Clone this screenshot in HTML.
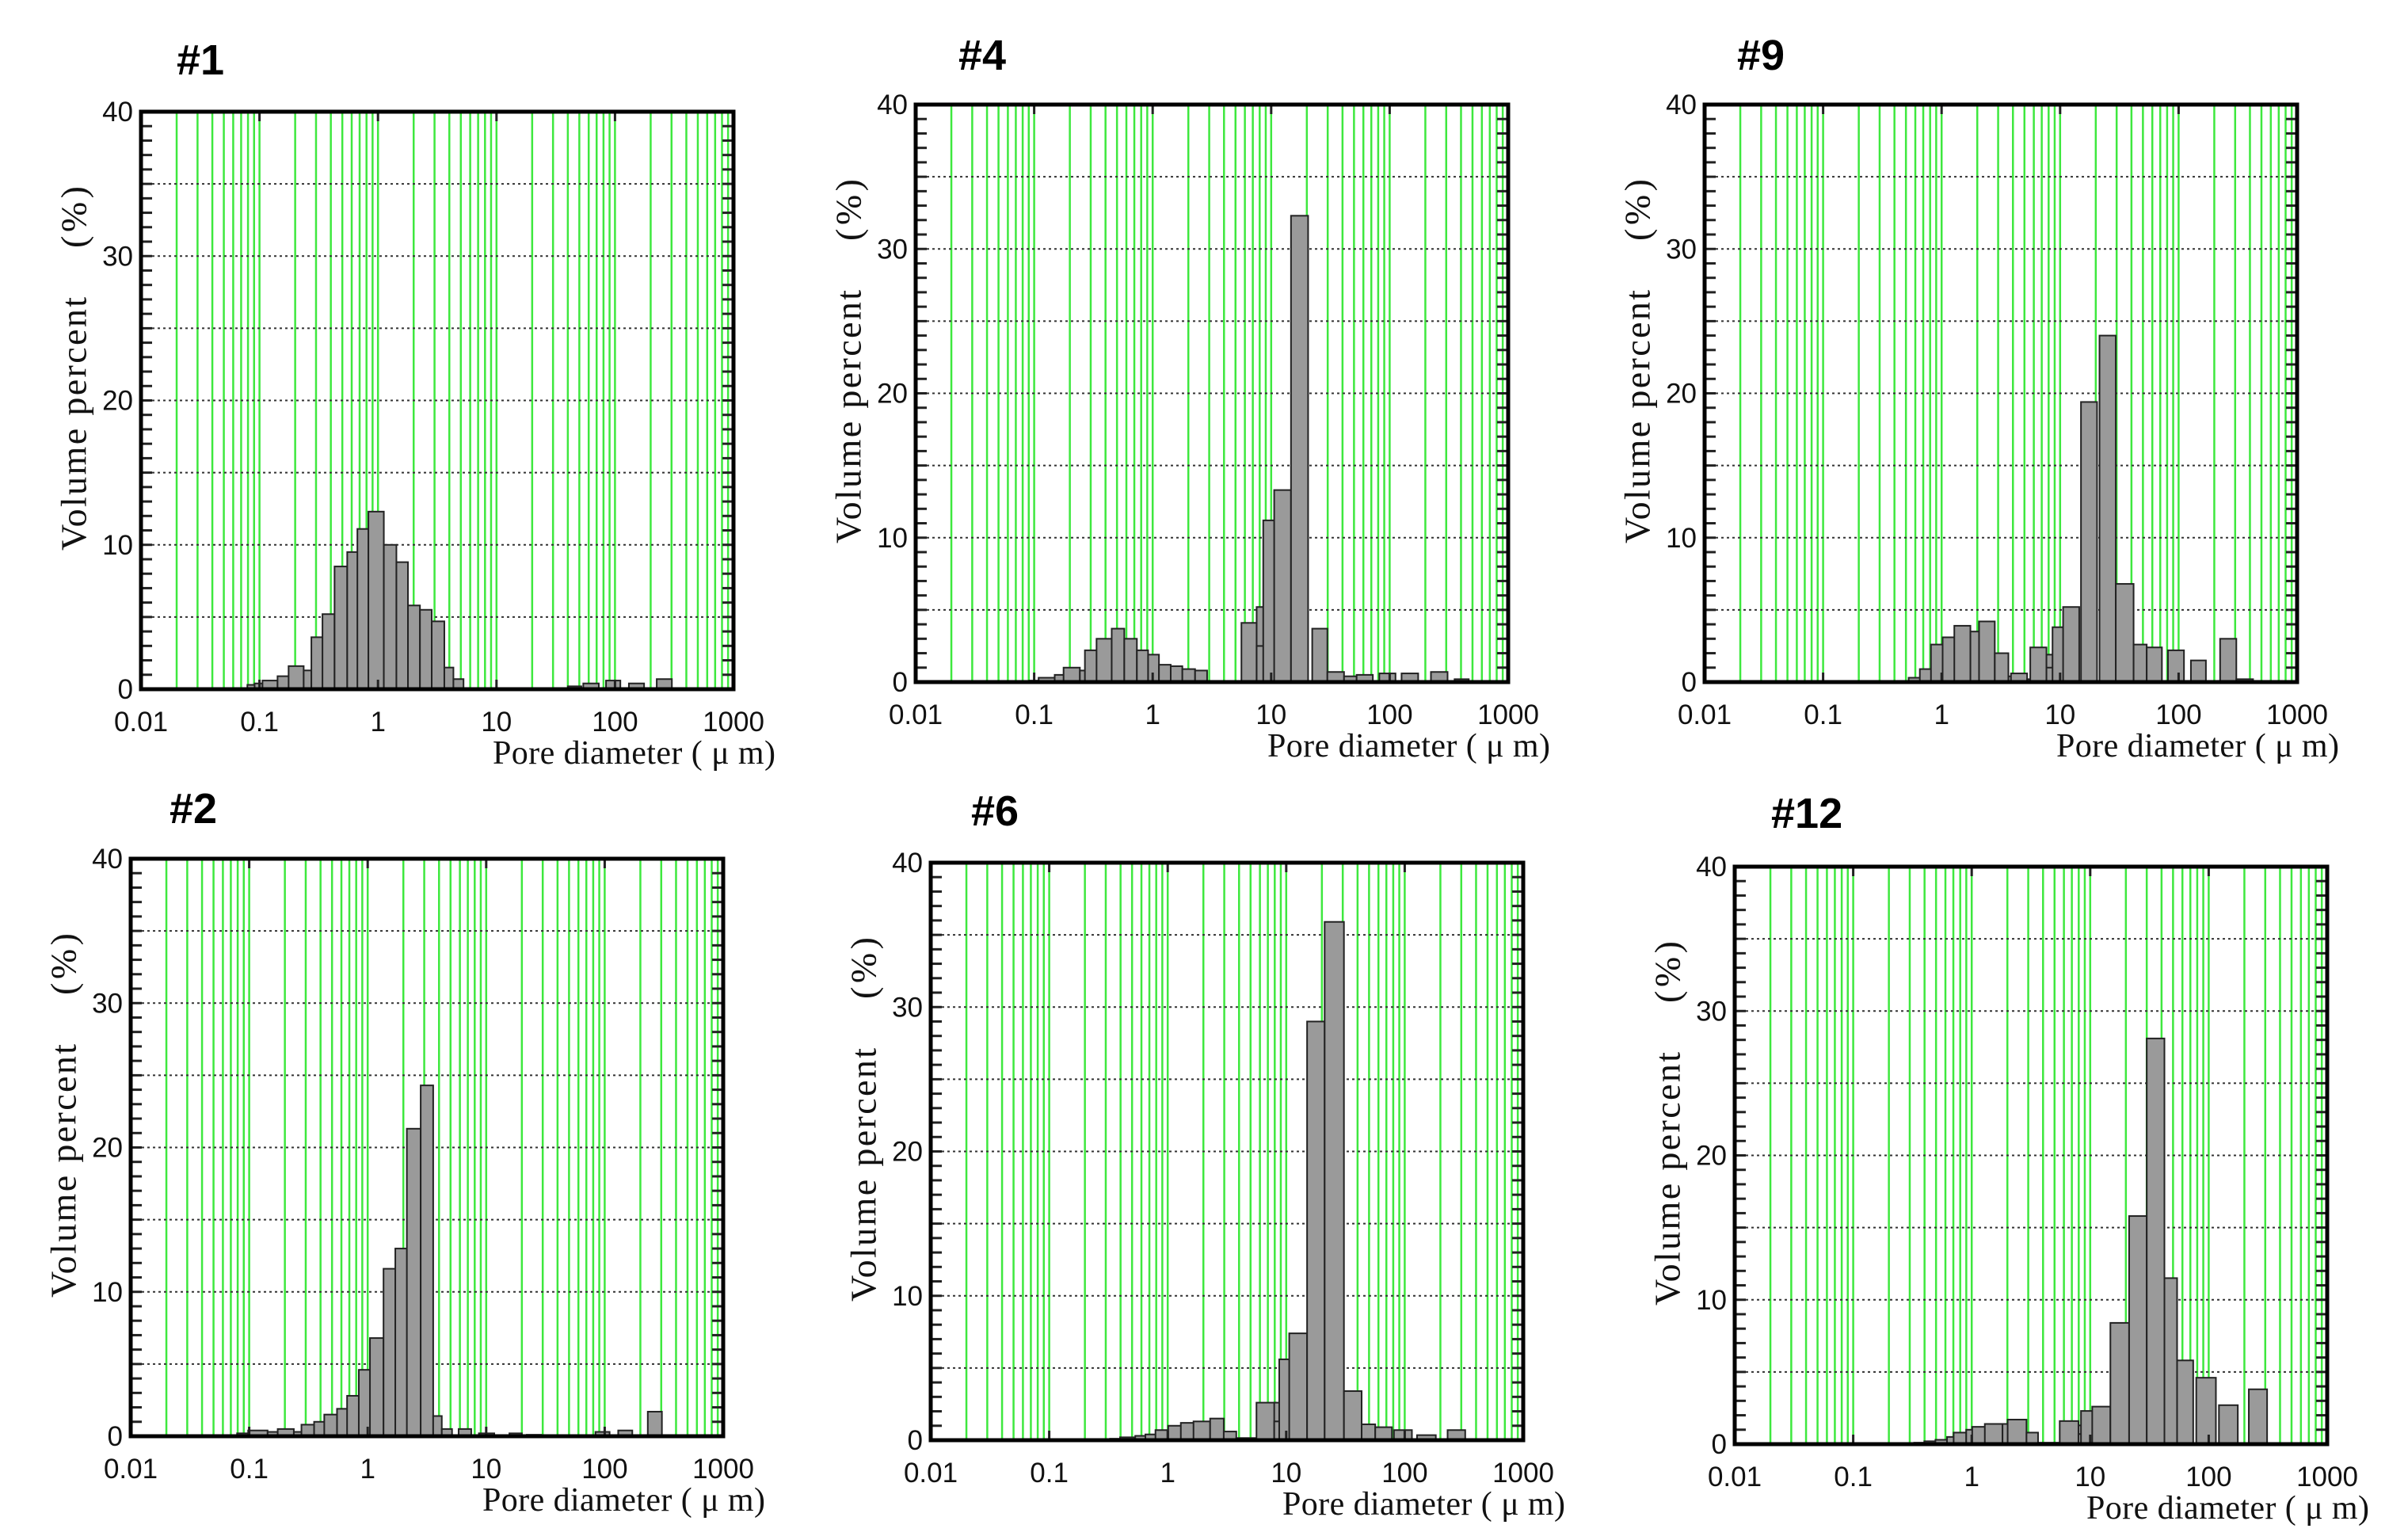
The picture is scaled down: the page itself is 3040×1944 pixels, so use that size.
<!DOCTYPE html>
<html><head><meta charset="utf-8"><title>Pore size distributions</title>
<style>html,body{margin:0;padding:0;background:#fff}svg{display:block}</style></head>
<body>
<svg id="fig" xmlns="http://www.w3.org/2000/svg" width="3040" height="1944" viewBox="0 0 3040 1944"></svg>
<script>
// ---- data: [lower diameter (um), upper diameter (um)], volume percent ----
const s1Lo = [0.079,0.091,0.106,0.142,0.176,0.236,0.274,0.34,0.43,0.55,0.67,0.83,1.12,1.43,1.79,2.26,2.84,3.63,4.33,40,54,84,131,225];
const s1Hi = [0.091,0.106,0.142,0.194,0.236,0.274,0.36,0.43,0.55,0.70,0.83,1.12,1.43,1.79,2.26,2.84,3.63,4.33,5.27,52,73,111,176,302];
const s1Val = [0.3,0.4,0.6,0.9,1.6,1.3,3.6,5.2,8.5,9.5,11.1,12.3,10.0,8.8,5.8,5.5,4.7,1.5,0.7,0.2,0.4,0.6,0.4,0.7];

const s4Lo = [0.091,0.109,0.149,0.177,0.243,0.268,0.336,0.451,0.576,0.736,0.915,1.13,1.42,1.78,2.28,5.61,7.54,7.54,8.57,10.6,14.7,22.2,29.8,41.2,52.6,81.8,126,223,353];
const s4Hi = [0.109,0.149,0.196,0.243,0.281,0.36,0.451,0.576,0.736,0.915,1.13,1.42,1.78,2.28,2.88,7.54,10.1,8.8,11.7,14.7,20.5,29.8,41.2,52.6,72.1,112,174,308,465];
const s4Val = [0.1,0.3,0.5,1.0,0.8,2.2,3.0,3.7,3.0,2.2,1.9,1.2,1.1,0.9,0.8,4.1,5.2,2.5,11.2,13.3,32.3,3.7,0.7,0.4,0.5,0.6,0.6,0.7,0.2];

const s9Lo = [0.527,0.655,0.813,1.02,1.28,1.75,2.07,2.81,3.66,3.85,5.27,5.6,7.67,7.67,8.63,10.6,15.0,21.5,29.5,41.7,53.8,81.3,127,224,307];
const s9Hi = [0.689,0.88,1.09,1.41,1.75,2.29,2.81,3.66,4.38,5.27,6.62,7.67,10.1,8.9,11.9,14.5,20.5,29.5,41.7,53.8,72.3,111,170,307,425];
const s9Val = [0.3,0.9,2.6,3.1,3.9,3.5,4.2,2.0,0.4,0.6,0.2,2.4,1.9,1.0,3.8,5.2,19.4,24.0,6.8,2.6,2.4,2.2,1.5,3.0,0.2];

const s2Lo = [0.079,0.098,0.143,0.174,0.238,0.276,0.353,0.430,0.551,0.670,0.841,1.045,1.36,1.71,2.14,2.80,3.57,4.22,5.85,8.67,15.7,22,83.6,130,231];
const s2Hi = [0.098,0.143,0.174,0.238,0.305,0.353,0.452,0.551,0.705,0.875,1.10,1.36,1.74,2.19,2.80,3.57,4.22,5.15,7.48,11.7,20.0,29,110,171,304];
const s2Val = [0.2,0.4,0.3,0.5,0.3,0.8,1.0,1.5,1.9,2.8,4.6,6.8,11.6,13.0,21.3,24.3,1.4,0.5,0.5,0.2,0.2,0.1,0.3,0.4,1.7];

const s6Lo = [0.326,0.396,0.532,0.648,0.788,1.01,1.29,1.65,2.28,2.97,3.79,5.61,7.92,7.92,8.73,10.6,15.0,21.1,30.7,43.3,56.4,81.1,127,230];
const s6Hi = [0.396,0.532,0.681,0.828,1.11,1.42,1.78,2.28,2.97,3.79,5.61,8.15,10.6,9.2,12.3,15.0,21.1,30.7,43.3,56.4,78.0,115,183,324];
const s6Val = [0.1,0.2,0.3,0.4,0.7,1.0,1.2,1.3,1.5,0.6,0.15,2.6,2.6,1.3,5.6,7.4,29.0,35.9,3.4,1.1,0.9,0.7,0.35,0.7];

const s12Lo = [0.327,0.398,0.494,0.619,0.704,0.899,1.01,1.29,1.82,2.01,2.90,3.63,5.53,7.96,7.96,8.36,10.4,14.8,21.3,30.0,42.3,54.1,78.5,122,218];
const s12Hi = [0.398,0.494,0.619,0.791,0.899,1.12,1.43,1.82,2.29,2.90,3.63,5.53,7.96,10.2,9.0,12.1,14.8,21.3,30.0,42.3,54.1,74.0,115,176,311];
const s12Val = [0.1,0.2,0.3,0.5,0.8,1.0,1.2,1.4,1.4,1.7,0.8,0.1,1.6,1.3,0.7,2.3,2.6,8.4,15.8,28.1,11.5,5.8,4.6,2.7,3.8];

const xTicks = ["0.01","0.1","1","10","100","1000"];
const yTicks = ["0","10","20","30","40"];

// ---- layout ----
const W = 748, H = 729;
const panels = [
  {id:"1",  left:178,  top:141,  tx:223,  tb:94,   lo:s1Lo,  hi:s1Hi,  v:s1Val},
  {id:"4",  left:1156, top:132,  tx:1210, tb:88,   lo:s4Lo,  hi:s4Hi,  v:s4Val},
  {id:"9",  left:2152, top:132,  tx:2193, tb:88,   lo:s9Lo,  hi:s9Hi,  v:s9Val},
  {id:"2",  left:165,  top:1084, tx:214,  tb:1039, lo:s2Lo,  hi:s2Hi,  v:s2Val},
  {id:"6",  left:1175, top:1089, tx:1226, tb:1042, lo:s6Lo,  hi:s6Hi,  v:s6Val},
  {id:"12", left:2190, top:1094, tx:2236, tb:1045, lo:s12Lo, hi:s12Hi, v:s12Val}
];

const NS = "http://www.w3.org/2000/svg";
const svg = document.getElementById("fig");
function mk(tag, attrs, parent){
  const e = document.createElementNS(NS, tag);
  for (const k in attrs) e.setAttribute(k, attrs[k]);
  (parent||svg).appendChild(e);
  return e;
}

panels.forEach(p => {
  const g = mk("g", {});
  
  
  const xs = d => p.left + (Math.log10(d) + 2) / 5 * W;
  const ys = v => p.top + H - v / 40 * H;

  const t = mk("text", {x:p.tx, y:p.tb, "font-family":"Liberation Sans, sans-serif", "font-weight":"bold", "font-size":54, fill:"#000"}, g);
  t.textContent = "#" + p.id;
  
  

  const gg = mk("g", {stroke:"#3ee83e", "stroke-width":2.5}, g);
  
  
  for (let dec = -2; dec < 3; dec++) {
    for (let m = 2; m <= 10; m++) {
      const x = xs(m * Math.pow(10, dec));
      mk("line", {x1:x, x2:x, y1:p.top, y2:p.top + H}, gg);
    }
  }
  const hg = mk("g", {stroke:"#333", "stroke-width":2, "stroke-dasharray":"3,4"}, g);
  
  
  for (let v = 5; v < 40; v += 5) {
    mk("line", {x1:p.left, x2:p.left + W, y1:ys(v), y2:ys(v)}, hg);
  }
  const bg = mk("g", {fill:"#9a9a9a", stroke:"#222", "stroke-width":2}, g);
  
  
  p.v.forEach((val, i) => {
    const x0 = xs(p.lo[i]), x1 = xs(p.hi[i]);
    const r = mk("rect", {x:x0, y:ys(val), width:Math.max(1, x1 - x0), height:ys(0) - ys(val)}, bg);
    
    
  });
  const tg = mk("g", {stroke:"#222", "stroke-width":3}, g);
  
  
  for (let v = 1; v < 40; v++) {
    const y = ys(v);
    mk("line", {x1:p.left, x2:p.left + 14, y1:y, y2:y}, tg);
    mk("line", {x1:p.left + W - 14, x2:p.left + W, y1:y, y2:y}, tg);
  }
  for (let dec = -1; dec <= 2; dec++) {
    const x = xs(Math.pow(10, dec));
    mk("line", {x1:x, x2:x, y1:p.top, y2:p.top + 12}, tg);
    mk("line", {x1:x, x2:x, y1:p.top + H - 12, y2:p.top + H}, tg);
  }
  const fr = mk("rect", {x:p.left, y:p.top, width:W, height:H, fill:"none", stroke:"#000", "stroke-width":5}, g);
  
  

  yTicks.forEach(lab => {
    const e = mk("text", {x:p.left - 10, y:ys(+lab) + 12, "text-anchor":"end", "font-family":"Liberation Sans, sans-serif", "font-size":35, fill:"#111"}, g);
    e.textContent = lab;
    
    
  });
  xTicks.forEach(lab => {
    const e = mk("text", {x:xs(+lab), y:p.top + H + 53, "text-anchor":"middle", "font-family":"Liberation Sans, sans-serif", "font-size":35, fill:"#111"}, g);
    e.textContent = lab;
    
    
  });
  const xt = mk("text", {x:p.left + W + 53, y:p.top + H + 94, "text-anchor":"end", "font-family":"Liberation Serif, serif", "font-size":42, fill:"#111", textLength:357, lengthAdjust:"spacing"}, g);
  xt.textContent = "Pore diameter ( \u03bc m)";
  
  

  const cx = p.left - 80;
  const cy1 = p.top + 394, cy2 = p.top + 133;
  const yt = mk("text", {x:cx, y:cy1, "text-anchor":"middle", "dominant-baseline":"middle", "font-family":"Liberation Serif, serif", "font-size":46, fill:"#111", textLength:320, lengthAdjust:"spacing", transform:"rotate(-90 " + cx + " " + cy1 + ")"}, g);
  yt.textContent = "Volume percent";
  
  
  const yu = mk("text", {x:cx, y:cy2, "text-anchor":"middle", "dominant-baseline":"middle", "font-family":"Liberation Serif, serif", "font-size":46, fill:"#111", textLength:78, lengthAdjust:"spacing", transform:"rotate(-90 " + cx + " " + cy2 + ")"}, g);
  yu.textContent = "(%)";
  
  
});
</script>
</body></html>
